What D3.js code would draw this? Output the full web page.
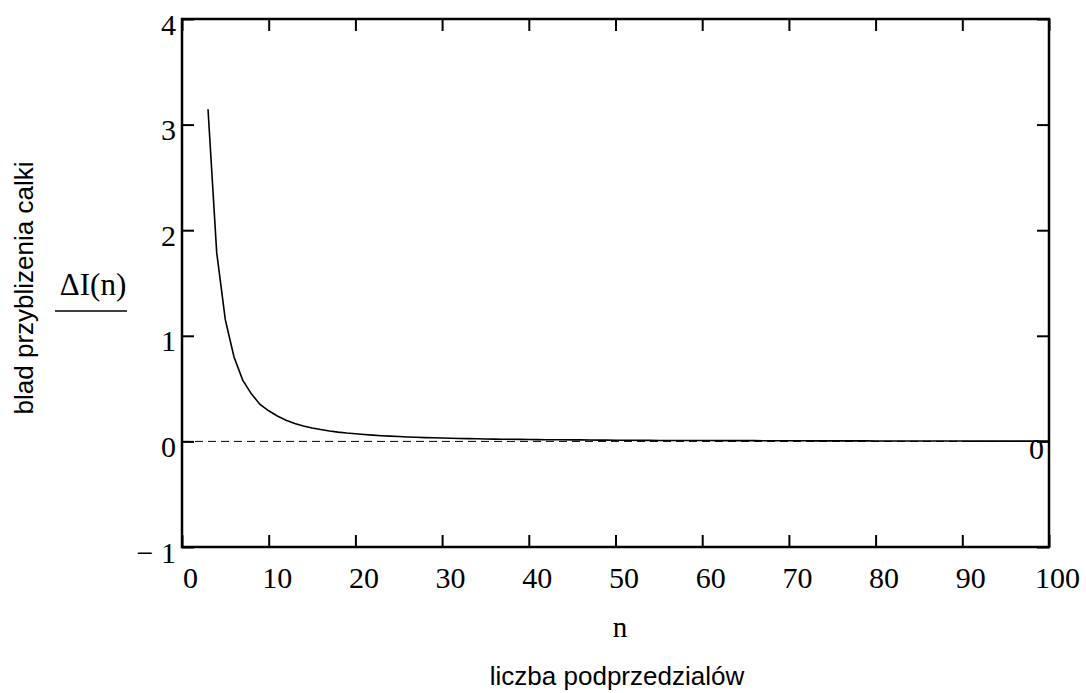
<!DOCTYPE html>
<html>
<head>
<meta charset="utf-8">
<script src="https://cdn.jsdelivr.net/npm/d3@7"></script>
<style>
  body { margin: 0; background: #fff; }
  svg { display: block; }
</style>
</head>
<body>
<div id="chart"></div>
<script>
// values
var nValues = d3.range(3, 101);
var errValues = [
  3.145, 1.79, 1.15, 0.80, 0.58, 0.45, 0.35, 0.29, 0.24, 0.20,
  0.17, 0.146, 0.127, 0.112, 0.099, 0.088, 0.079, 0.072, 0.065, 0.059,
  0.054, 0.050, 0.046, 0.042, 0.039, 0.036, 0.034, 0.032, 0.030, 0.028,
  0.026, 0.025, 0.023, 0.022, 0.021, 0.020, 0.019, 0.018, 0.017, 0.016,
  0.015, 0.015, 0.014, 0.014, 0.013, 0.012, 0.012, 0.011, 0.011, 0.011,
  0.010, 0.010, 0.009, 0.009, 0.009, 0.009, 0.008, 0.008, 0.008, 0.007,
  0.007, 0.007, 0.007, 0.007, 0.006, 0.006, 0.006, 0.006, 0.006, 0.006,
  0.005, 0.005, 0.005, 0.005, 0.005, 0.005, 0.005, 0.004, 0.004, 0.004,
  0.004, 0.004, 0.004, 0.004, 0.004, 0.004, 0.004, 0.004, 0.003, 0.003,
  0.003, 0.003, 0.003, 0.003, 0.003, 0.003, 0.003, 0.003
];
var xTicks = [0, 10, 20, 30, 40, 50, 60, 70, 80, 90, 100];
var yTicks = [-1, 0, 1, 2, 3, 4];
var markerValue = 0;

var config = {
  width: 1086,
  height: 693,
  margin: { left: 182, top: 19, right: 37, bottom: 146 }
};

var svg = d3.select('#chart').append('svg')
    .attr('width', config.width)
    .attr('height', config.height);

var plotW = config.width - config.margin.left - config.margin.right,
    plotH = config.height - config.margin.top - config.margin.bottom;

var chart = svg.append('g')
    .attr('transform', 'translate(' + config.margin.left + ',' + config.margin.top + ')');

var x = d3.scaleLinear().domain([0, 100]).range([0, plotW]);
var y = d3.scaleLinear().domain([-1, 4]).range([plotH, 0]);

var serif = '"Liberation Serif", "Times New Roman", serif',
    sans = '"Liberation Sans", Arial, sans-serif';

// dashed marker line at y = 0
chart.append('line')
    .attr('x1', 0).attr('x2', plotW)
    .attr('y1', y(markerValue)).attr('y2', y(markerValue))
    .attr('stroke', '#000')
    .attr('stroke-width', 1)
    .attr('stroke-dasharray', '8,5');

// curve
var line = d3.line()
    .x(function(d, i) { return x(nValues[i]); })
    .y(function(d) { return y(d); });

chart.append('path')
    .datum(errValues)
    .attr('d', line)
    .attr('fill', 'none')
    .attr('stroke', '#000')
    .attr('stroke-width', 1.6);

// axes with inward ticks
function styleAxis(g) {
  g.select('.domain').remove();
  g.selectAll('.tick line').attr('stroke', '#000').attr('stroke-width', 2);
}

chart.append('g')
    .attr('transform', 'translate(0,' + plotH + ')')
    .call(d3.axisBottom(x).tickValues(xTicks).tickSize(-12).tickPadding(0).tickFormat(d3.format('d')))
    .call(styleAxis)
    .selectAll('text')
    .attr('dy', null)
    .attr('y', 41)
    .attr('x', 8)
    .attr('font-family', serif).attr('font-size', 30).attr('fill', '#000');

chart.append('g')
    .call(d3.axisTop(x).tickValues(xTicks).tickSize(-12).tickFormat(''))
    .call(styleAxis);

chart.append('g')
    .call(d3.axisLeft(y).tickValues(yTicks).tickSize(-12).tickPadding(0)
      .tickFormat(function(d) { return d < 0 ? '\u2212 ' + Math.abs(d) : d; }))
    .call(styleAxis)
    .selectAll('text')
    .attr('dy', null)
    .attr('y', 15)
    .attr('x', -6)
    .attr('font-family', serif).attr('font-size', 30).attr('fill', '#000');

chart.append('g')
    .attr('transform', 'translate(' + plotW + ',0)')
    .call(d3.axisRight(y).tickValues(yTicks).tickSize(-12).tickFormat(''))
    .call(styleAxis);

// frame
chart.append('rect')
    .attr('x', 0).attr('y', 0)
    .attr('width', plotW).attr('height', plotH)
    .attr('fill', 'none')
    .attr('stroke', '#000')
    .attr('stroke-width', 2.5);

// marker label
chart.append('text')
    .attr('x', plotW - 5)
    .attr('y', y(markerValue) + 18)
    .attr('text-anchor', 'end')
    .attr('font-family', serif).attr('font-size', 30)
    .text(markerValue);

// axis titles
svg.append('text')
    .attr('x', 620).attr('y', 637)
    .attr('text-anchor', 'middle')
    .attr('font-family', serif).attr('font-size', 29)
    .text('n');

svg.append('text')
    .attr('x', 617).attr('y', 685)
    .attr('text-anchor', 'middle')
    .attr('font-family', sans).attr('font-size', 26)
    .text('liczba podprzedzialów');

svg.append('text')
    .attr('transform', 'translate(33,288) rotate(-90)')
    .attr('text-anchor', 'middle')
    .attr('font-family', sans).attr('font-size', 26)
    .text('blad przyblizenia calki');

svg.append('text')
    .attr('x', 93).attr('y', 295)
    .attr('text-anchor', 'middle')
    .attr('font-family', serif).attr('font-size', 31)
    .text('\u0394I(n)');

svg.append('line')
    .attr('x1', 55).attr('x2', 127)
    .attr('y1', 311).attr('y2', 311)
    .attr('stroke', '#000').attr('stroke-width', 1.5);
</script>
</body>
</html>
